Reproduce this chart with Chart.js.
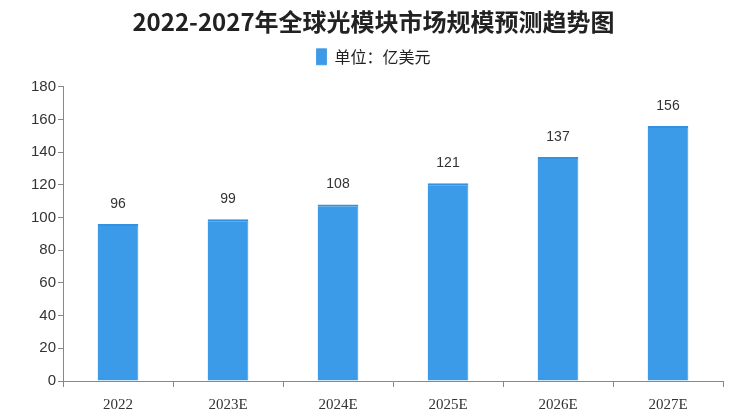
<!DOCTYPE html>
<html>
<head>
<meta charset="utf-8">
<title>2022-2027年全球光模块市场规模预测趋势图</title>
<script src="https://cdn.jsdelivr.net/npm/chart.js@4.4.1/dist/chart.umd.min.js"></script>
<style>
    html, body { margin: 0; padding: 0; background: #ffffff; }
    #wrap { width: 747px; height: 420px; }
</style>
</head>
<body>
<div id="wrap"><canvas id="marketChart" width="747" height="420"></canvas></div>
<script>
// Chart data
const years = ["2022", "2023E", "2024E", "2025E", "2026E", "2027E"];
const marketSize = [96, 99, 108, 121, 137, 156];
const seriesName = "单位：亿美元";
const chartTitle = "2022-2027年全球光模块市场规模预测趋势图";

// Draws the value above each bar
const barValueLabels = {
    id: "barValueLabels",
    afterDatasetsDraw(chart) {
        const ctx = chart.ctx;
        const meta = chart.getDatasetMeta(0);
        ctx.save();
        ctx.font = "14px 'Liberation Sans', Arial, sans-serif";
        ctx.fillStyle = "#333333";
        ctx.textAlign = "center";
        ctx.textBaseline = "bottom";
        meta.data.forEach(function (bar, i) {
            ctx.fillText(String(marketSize[i]), bar.x, bar.y - 13);
        });
        ctx.restore();
    }
};

// Leaves some extra room under the legend
const legendSpacing = {
    id: "legendSpacing",
    beforeLayout(chart) {
        const legend = chart.legend;
        if (legend && !legend._spacingPatched) {
            const fit = legend.fit;
            legend.fit = function () {
                fit.call(this);
                this.height += 12;
            };
            legend._spacingPatched = true;
        }
    }
};

const ctx = document.getElementById("marketChart").getContext("2d");
new Chart(ctx, {
    type: "bar",
    data: {
        labels: years,
        datasets: [{
            label: seriesName,
            data: marketSize,
            backgroundColor: "#3c9be9",
            borderColor: "#3490e0",
            borderWidth: { top: 2, right: 1, left: 0, bottom: 0 },
            categoryPercentage: 1,
            barPercentage: 0.37
        }]
    },
    options: {
        responsive: false,
        animation: false,
        layout: { padding: { left: 0, right: 0, top: 0, bottom: 1 } },
        plugins: {
            title: {
                display: true,
                text: chartTitle,
                color: "#222222",
                font: { family: "'Noto Sans CJK SC', sans-serif", size: 24, weight: "bold" },
                padding: { top: 7, bottom: 5 }
            },
            legend: {
                display: true,
                position: "top",
                labels: {
                    color: "#222222",
                    font: { family: "'Noto Sans CJK SC', sans-serif", size: 16 },
                    boxWidth: 10,
                    boxHeight: 16,
                    padding: 8
                }
            },
            tooltip: { enabled: false }
        },
        scales: {
            x: {
                offset: true,
                grid: {
                    display: true,
                    drawOnChartArea: false,
                    offset: true,
                    tickLength: 6,
                    color: "#888888"
                },
                border: { display: true, color: "#888888" },
                ticks: {
                    color: "#333333",
                    font: { family: "'Liberation Serif', serif", size: 15 },
                    padding: 9
                },
                afterFit(scale) { scale.height = 38; }
            },
            y: {
                min: 0,
                max: 180,
                ticks: {
                    stepSize: 20,
                    color: "#333333",
                    font: { family: "'Liberation Sans', Arial, sans-serif", size: 15 },
                    padding: 2
                },
                grid: {
                    display: true,
                    drawOnChartArea: false,
                    tickLength: 5,
                    color: "#888888"
                },
                border: { display: true, color: "#888888" },
                afterFit(scale) { scale.width = 63; }
            },
            // empty right-hand gutter so the title stays centred on the canvas
            gutter: {
                type: "linear",
                position: "right",
                display: true,
                grid: { display: false },
                border: { display: false },
                ticks: { display: false },
                afterFit(scale) { scale.width = 24; }
            }
        }
    },
    plugins: [barValueLabels, legendSpacing]
});
</script>
</body>
</html>
